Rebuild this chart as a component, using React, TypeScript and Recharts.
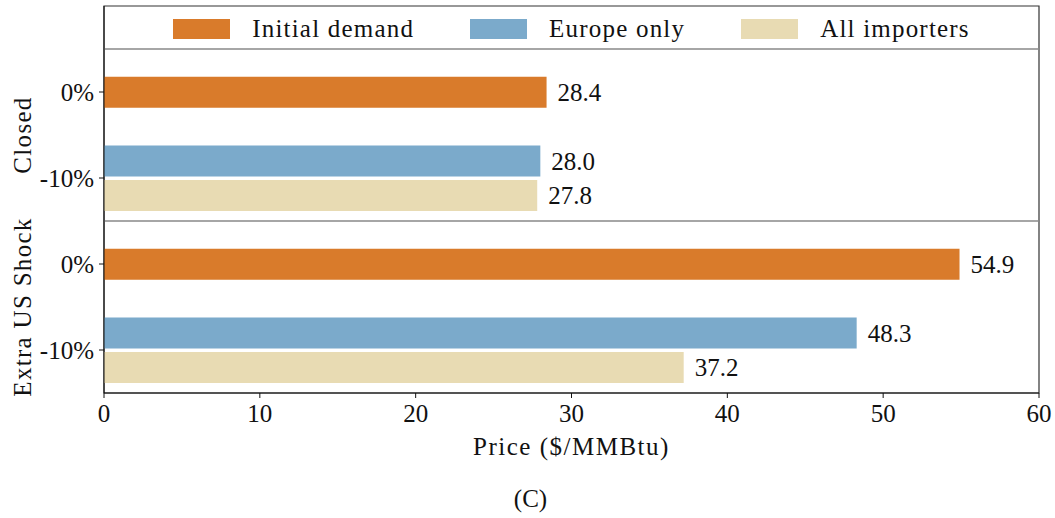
import React from "react";
import {
  BarChart,
  Bar,
  XAxis,
  YAxis,
  Legend,
  LabelList,
  ReferenceLine,
  ReferenceArea,
} from "recharts";

const scenarios = ["Closed", "Extra US Shock"];
const demandCuts = ["0%", "-10%"];
const initialDemand = [28.4, 54.9];
const europeOnly = [28.0, 48.3];
const allImporters = [27.8, 37.2];
const priceTicks = [0, 10, 20, 30, 40, 50, 60];

const FONT = "'Liberation Serif', 'DejaVu Serif', serif";
const INK = "#111";
const SERIES = [
  { key: "initial", name: "Initial demand", color: "#D97B2B" },
  { key: "europe", name: "Europe only", color: "#7BAACB" },
  { key: "all", name: "All importers", color: "#E8DBB3" },
];

// one row per bar on a numeric y axis: the 0% bar, then the -10% pair
const rows = scenarios.flatMap((_, i) => [
  { pos: i * 2, initial: initialDemand[i] },
  { pos: i * 2 + 0.8, europe: europeOnly[i] },
  { pos: i * 2 + 1.2, all: allImporters[i] },
]);
const cutTicks = scenarios.flatMap((_, i) => demandCuts.map((_, j) => i * 2 + j));

const ValueLabel = (props: any) => {
  const { x, y, width, height, value } = props;
  if (value == null) return null;
  return (
    <text
      x={x + width + 11}
      y={y + height / 2}
      dominantBaseline="central"
      fontSize={25}
      fontFamily={FONT}
      fill={INK}
    >
      {Number(value).toFixed(1)}
    </text>
  );
};

// rotated scenario name, centred on its band, left of the tick labels
const GroupLabel = (props: any) => {
  const { viewBox, text } = props;
  const cx = viewBox.x - 82;
  const cy = viewBox.y + viewBox.height / 2;
  return (
    <text
      x={cx}
      y={cy}
      transform={`rotate(-90, ${cx}, ${cy})`}
      textAnchor="middle"
      dominantBaseline="central"
      fontSize={25}
      fontFamily={FONT}
      letterSpacing={1.3}
      fill={INK}
    >
      {text}
    </text>
  );
};

const renderLegend = () => (
  <div
    style={{
      display: "flex",
      justifyContent: "center",
      gap: 56,
      fontFamily: FONT,
      fontSize: 25,
      letterSpacing: 1.2,
      color: INK,
      lineHeight: "30px",
    }}
  >
    {SERIES.map((s) => (
      <div key={s.key} style={{ display: "flex", alignItems: "center" }}>
        <span
          style={{
            display: "inline-block",
            width: 57,
            height: 20,
            background: s.color,
            marginRight: 22,
          }}
        />
        <span>{s.name}</span>
      </div>
    ))}
  </div>
);

const App = () => {
  return (
    <div style={{ position: "absolute", left: 0, top: 0, width: 1055, height: 518 }}>
      <BarChart
        width={1055}
        height={518}
        data={rows}
        layout="vertical"
        margin={{ top: 6, right: 16, bottom: 55, left: 0 }}
      >
        <XAxis
          type="number"
          domain={[0, 60]}
          ticks={priceTicks}
          allowDataOverflow
          height={70}
          stroke="#111"
          tickSize={5}
          tickMargin={6}
          tick={{ fontSize: 25, fontFamily: FONT, fill: INK }}
          label={{
            value: "Price ($/MMBtu)",
            position: "insideBottom",
            offset: 8,
            style: { fontSize: 25, fontFamily: FONT, fill: INK, letterSpacing: 1.5 },
          }}
        />
        <YAxis
          type="number"
          dataKey="pos"
          domain={[-1, 3.5]}
          allowDataOverflow
          ticks={cutTicks}
          tickFormatter={(v: number) => demandCuts[v % 2]}
          width={104}
          stroke="#111"
          tickSize={5}
          tickMargin={5}
          tick={{ fontSize: 25, fontFamily: FONT, fill: INK }}
        />
        <ReferenceArea
          x1={0}
          x2={60}
          y1={-1}
          y2={3.5}
          fill="none"
          stroke="#333"
          strokeWidth={1.2}
          ifOverflow="visible"
        />
        {scenarios.map((s, i) => (
          <ReferenceArea
            key={s}
            x1={0}
            x2={60}
            y1={i * 2 - 0.5}
            y2={i * 2 + 1.5}
            fill="none"
            stroke="none"
            ifOverflow="visible"
            label={<GroupLabel text={s} />}
          />
        ))}
        <ReferenceLine y={-0.5} stroke="#888" strokeWidth={1.5} />
        <ReferenceLine y={1.5} stroke="#888" strokeWidth={1.5} />
        <Legend
          verticalAlign="middle"
          align="center"
          layout="horizontal"
          content={renderLegend}
          wrapperStyle={{ top: 14, left: 104, width: 935 }}
        />
        {SERIES.map((s) => (
          <Bar
            key={s.key}
            dataKey={s.key}
            name={s.name}
            stackId="s"
            fill={s.color}
            barSize={31}
            isAnimationActive={false}
          >
            <LabelList dataKey={s.key} content={<ValueLabel />} />
          </Bar>
        ))}
      </BarChart>
      <div
        style={{
          position: "absolute",
          top: 484,
          left: 3,
          width: 1055,
          textAlign: "center",
          fontFamily: FONT,
          fontSize: 25,
          lineHeight: "30px",
          color: INK,
        }}
      >
        (C)
      </div>
    </div>
  );
};

export default App;
